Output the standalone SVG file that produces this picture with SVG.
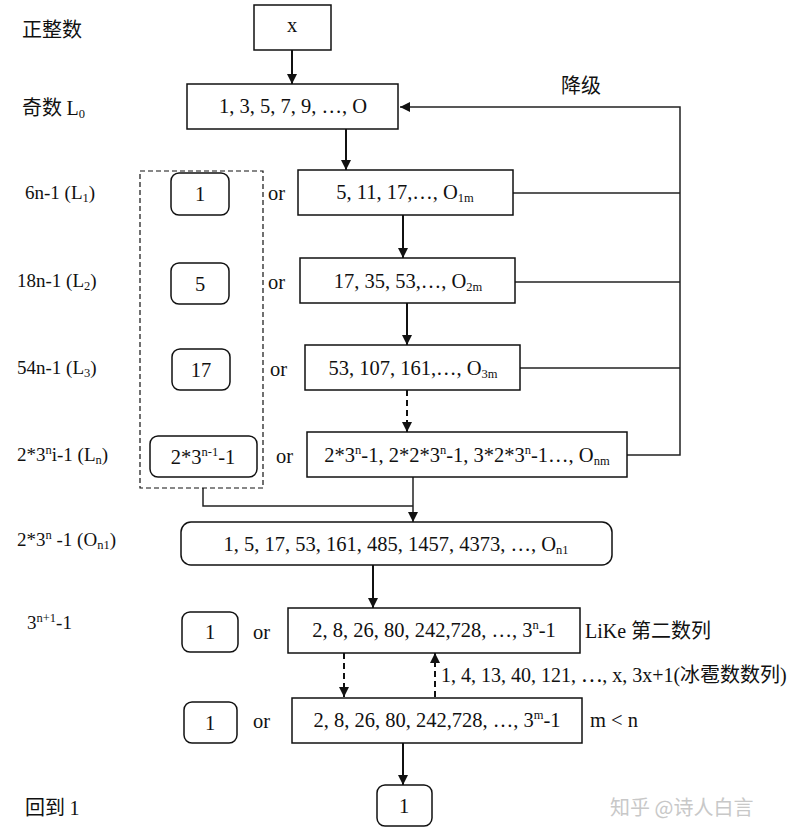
<svg xmlns="http://www.w3.org/2000/svg" width="811" height="840" viewBox="0 0 811 840">
<defs>
<style>
.t{font-family:"Liberation Serif","Noto Sans CJK SC",serif;font-size:20.5px;fill:#111;}
.l{font-family:"Liberation Serif","Noto Sans CJK SC",serif;font-size:19px;fill:#111;}
.c{font-family:"Noto Sans CJK SC","Liberation Serif",sans-serif;font-size:20px;fill:#111;}
.m{font-family:"Liberation Serif","Noto Sans CJK SC",serif;font-size:20px;fill:#111;}
.s{font-size:12.5px;}
.b{fill:#fff;stroke:#111;stroke-width:1.5;}
.ln{fill:none;stroke:#222;stroke-width:1.5;}
.ar{fill:none;stroke:#111;stroke-width:2;}
.da{fill:none;stroke:#111;stroke-width:2;stroke-dasharray:6,4;}
</style>
<marker id="ah" viewBox="0 0 10 10" refX="10" refY="5" markerWidth="10" markerHeight="10" markerUnits="userSpaceOnUse" orient="auto">
<path d="M0,0 L10,5 L0,10 z" fill="#111"/>
</marker>
</defs>
<rect width="811" height="840" fill="#fff"/>

<g id="left-labels">
<text class="c" x="22" y="37">正整数</text>
<text class="c" x="22" y="115">奇数 <tspan class="m" font-size="18">L</tspan><tspan class="m s" dy="3">0</tspan></text>
<text class="l" x="25" y="199">6n-1 (L<tspan class="s" dy="3">1</tspan><tspan dy="-3">)</tspan></text>
<text class="l" x="17" y="287">18n-1 (L<tspan class="s" dy="3">2</tspan><tspan dy="-3">)</tspan></text>
<text class="l" x="17" y="374">54n-1 (L<tspan class="s" dy="3">3</tspan><tspan dy="-3">)</tspan></text>
<text class="l" x="17" y="461">2*3<tspan class="s" dy="-7">n</tspan><tspan dy="7">i-1 (L</tspan><tspan class="s" dy="3">n</tspan><tspan dy="-3">)</tspan></text>
<text class="l" x="17" y="546">2*3<tspan class="s" dy="-7">n</tspan><tspan dy="7"> -1 (O</tspan><tspan class="s" dy="3">n1</tspan><tspan dy="-3">)</tspan></text>
<text class="l" x="27" y="629">3<tspan class="s" dy="-7">n+1</tspan><tspan dy="7">-1</tspan></text>
<text class="c" x="25" y="815">回到 <tspan class="m">1</tspan></text>
</g>

<g id="connectors">
<line class="ar" x1="292" y1="50" x2="292" y2="84" marker-end="url(#ah)"/>
<line class="ar" x1="346" y1="129" x2="346" y2="170" marker-end="url(#ah)"/>
<line class="ar" x1="403" y1="215" x2="403" y2="258" marker-end="url(#ah)"/>
<line class="ar" x1="407" y1="303" x2="407" y2="345" marker-end="url(#ah)"/>
<line class="da" x1="407" y1="390" x2="407" y2="432" marker-end="url(#ah)"/>
<polyline class="ln" points="513,193 680,193"/>
<polyline class="ln" points="515,282 680,282"/>
<polyline class="ln" points="520,368 680,368"/>
<polyline class="ln" points="627,455 680,455 680,107 400,107" marker-end="url(#ah)"/>
<polyline class="ln" points="203,488 203,506 413,506"/>
<line class="ln" x1="413" y1="477" x2="413" y2="522" marker-end="url(#ah)"/>
<line class="ar" x1="373" y1="565" x2="373" y2="608" marker-end="url(#ah)"/>
<line class="da" x1="344" y1="653" x2="344" y2="697" marker-end="url(#ah)"/>
<line class="da" x1="435" y1="697" x2="435" y2="653" marker-end="url(#ah)"/>
<line class="ar" x1="403" y1="743" x2="403" y2="785" marker-end="url(#ah)"/>
<text class="c" x="561" y="93">降级</text>
</g>

<g id="n-x"><rect class="b" x="254" y="5" width="77" height="45"/><text class="t" x="292" y="32" text-anchor="middle">x</text></g>
<g id="n-l0"><rect class="b" x="187" y="84" width="211" height="45"/><text class="t" x="293" y="113" text-anchor="middle">1, 3, 5, 7, 9, …, O</text></g>

<g id="n-group"><rect x="140" y="171" width="123" height="317" fill="none" stroke="#111" stroke-width="1.2" stroke-dasharray="5,3"/></g>
<g id="n-g1"><rect class="b" x="171" y="173" width="58" height="42" rx="8"/><text class="t" x="200" y="201" text-anchor="middle">1</text></g>
<g id="n-g5"><rect class="b" x="171" y="263" width="58" height="41" rx="8"/><text class="t" x="200" y="291" text-anchor="middle">5</text></g>
<g id="n-g17"><rect class="b" x="172" y="349" width="58" height="41" rx="8"/><text class="t" x="201" y="377" text-anchor="middle">17</text></g>
<g id="n-gn"><rect class="b" x="150" y="436" width="107" height="41" rx="8"/><text class="t" x="203" y="464" text-anchor="middle">2*3<tspan class="s" dy="-8">n-1</tspan><tspan dy="8">-1</tspan></text></g>

<g id="or-labels">
<text class="t" x="268" y="200">or</text>
<text class="t" x="268" y="289">or</text>
<text class="t" x="270" y="376">or</text>
<text class="t" x="276" y="463">or</text>
<text class="t" x="253" y="639">or</text>
<text class="t" x="253" y="728">or</text>
</g>

<g id="n-l1"><rect class="b" x="298" y="170" width="215" height="45"/><text class="t" x="405" y="199" text-anchor="middle">5, 11, 17,…, O<tspan class="s" dy="3">1m</tspan></text></g>
<g id="n-l2"><rect class="b" x="300" y="258" width="215" height="45"/><text class="t" x="408" y="288" text-anchor="middle">17, 35, 53,…, O<tspan class="s" dy="3">2m</tspan></text></g>
<g id="n-l3"><rect class="b" x="305" y="345" width="215" height="45"/><text class="t" x="413" y="375" text-anchor="middle">53, 107, 161,…, O<tspan class="s" dy="3">3m</tspan></text></g>
<g id="n-ln"><rect class="b" x="307" y="432" width="320" height="45"/><text class="t" x="467" y="462" text-anchor="middle">2*3<tspan class="s" dy="-8">n</tspan><tspan dy="8">-1, 2*2*3</tspan><tspan class="s" dy="-8">n</tspan><tspan dy="8">-1, 3*2*3</tspan><tspan class="s" dy="-8">n</tspan><tspan dy="8">-1…, O</tspan><tspan class="s" dy="3">nm</tspan></text></g>

<g id="n-on1"><rect class="b" x="181" y="522" width="431" height="43" rx="10"/><text class="t" x="396" y="551" text-anchor="middle">1, 5, 17, 53, 161, 485, 1457, 4373, …, O<tspan class="s" dy="3">n1</tspan></text></g>

<g id="n-one-a"><rect class="b" x="182" y="612" width="56" height="40" rx="8"/><text class="t" x="210" y="639" text-anchor="middle">1</text></g>
<g id="n-seq-n"><rect class="b" x="288" y="608" width="292" height="45"/><text class="t" x="434" y="637" text-anchor="middle">2, 8, 26, 80, 242,728, …, 3<tspan class="s" dy="-8">n</tspan><tspan dy="8">-1</tspan></text></g>
<text class="m" x="585" y="638">LiKe 第二数列</text>
<text class="m" x="441" y="682">1, 4, 13, 40, 121, ⋯, x, 3x+1(冰雹数数列)</text>

<g id="n-one-b"><rect class="b" x="184" y="702" width="53" height="41" rx="8"/><text class="t" x="210" y="730" text-anchor="middle">1</text></g>
<g id="n-seq-m"><rect class="b" x="292" y="698" width="290" height="45"/><text class="t" x="437" y="727" text-anchor="middle">2, 8, 26, 80, 242,728, …, 3<tspan class="s" dy="-8">m</tspan><tspan dy="8">-1</tspan></text></g>
<text class="t" x="590" y="727">m &lt; n</text>

<g id="n-end"><rect class="b" x="377" y="785" width="55" height="41" rx="8"/><text class="t" x="404" y="813" text-anchor="middle">1</text></g>

<text x="610" y="815" font-family="Noto Sans CJK SC, sans-serif" font-size="20" fill="#c8c8c8">知乎 @诗人白言</text>
</svg>
